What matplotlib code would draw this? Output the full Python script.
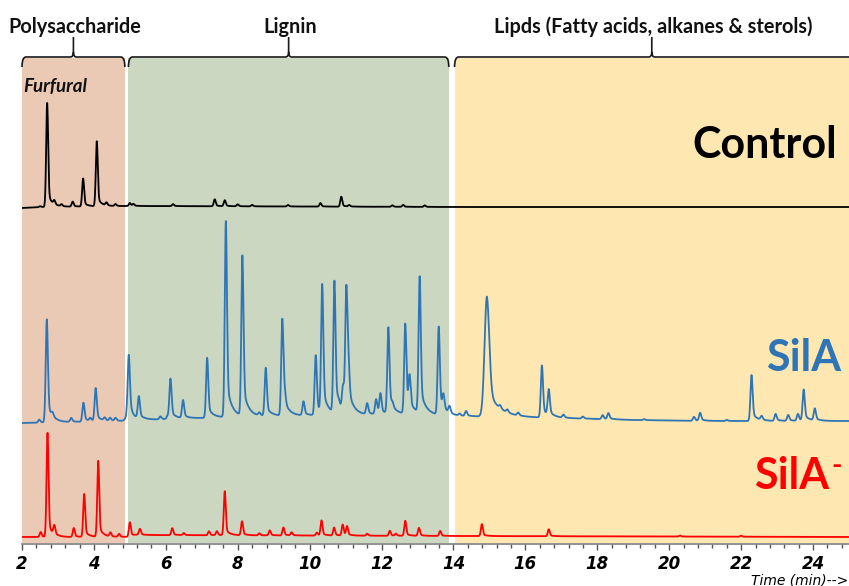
import numpy as np
import matplotlib.pyplot as plt
from matplotlib.path import Path
from matplotlib.patches import PathPatch

# retention time grid (min)
t = np.linspace(2, 25.2, 4641)

# sample regions (start, end in min)
region_start = [2.0, 4.96, 14.03]
region_end = [4.86, 13.87, 25.2]
region_names = ['Polysaccharide', 'Lignin', 'Lipds (Fatty acids, alkanes & sterols)']
region_colors = ['#EBCAB5', '#CBD7C1', '#FFE7B2']

# Control peaks: retention time, height
control_rt = [2.50, 2.70, 2.90, 3.10, 3.41, 3.70, 4.08, 4.35, 4.60, 5.00, 5.10, 6.20,
              7.36, 7.64, 8.00, 8.40, 9.40, 10.30, 10.88, 11.10, 12.30, 12.60, 13.20]
control_h = [1, 104, 4, 2, 5, 28, 65, 3, 2, 3, 2, 2,
             7, 6, 2, 1.5, 1.5, 3.5, 10, 1.5, 1.5, 2, 1.5]
control_base_t = [2.0, 2.6, 5.0, 14.0, 25.2]
control_base_y = [-1, 0, 1, 0, 0]

# SilA peaks
sila_rt = [2.48, 2.69, 2.85, 3.37, 3.71, 3.90, 4.05, 4.30, 4.45, 4.60,
           4.97, 5.25, 5.85, 6.05, 6.13, 6.48, 7.15, 7.67, 8.13, 8.60, 8.78,
           9.24, 9.31, 9.83, 10.17, 10.35, 10.69, 10.80, 10.93, 11.02, 11.08,
           11.60, 11.85, 11.97, 12.19, 12.30, 12.66, 12.78, 13.06, 13.59, 13.72,
           13.89, 14.17, 14.35,
           15.30, 15.50, 15.80, 16.46, 16.65, 17.06, 17.60, 18.15, 18.31, 19.30,
           20.69, 20.86, 21.60, 22.29, 22.57, 22.96, 23.31, 23.58, 23.74, 24.05]
sila_h = [3, 103, 4, 4, 19, 3, 33, 3, 3, 3,
          58, 22, 3, 3, 40, 18, 60, 196, 160, 3, 48,
          96, 12, 14, 60, 128, 132, 5, 24, 120, 34,
          11, 15, 20, 86, 5, 90, 32, 136, 88, 15,
          7, 2, 5,
          3, 3, 3, 52, 26, 3, 2, 4, 6, 1,
          4, 8, 1, 46, 4, 7, 6, 7, 31, 12]
sila_broad_rt = [4.97, 14.93]
sila_broad_h = [8, 120]
sila_base_t = [2.0, 4.9, 5.5, 7.0, 9.0, 11.0, 13.0, 14.0, 15.5, 17.0, 19.0, 21.0, 25.2]
sila_base_y = [-2, 0, 1, 3, 5, 6, 7, 5, 4, 3, 1, 0, 0]

# SilA- peaks
silam_rt = [2.52, 2.71, 2.90, 3.44, 3.73, 4.12, 4.46, 4.70, 5.00, 5.28, 6.18, 6.50,
            7.20, 7.42, 7.64, 8.12, 8.60, 8.89, 9.27, 9.50, 10.20, 10.33, 10.68,
            10.92, 11.04, 11.60, 12.23, 12.40, 12.66, 13.04, 13.63, 14.79, 16.65,
            20.30, 22.00]
silam_h = [5, 104, 9, 9, 43, 76, 4, 3, 14, 6, 7, 2,
           4, 4, 44, 14, 2, 5, 8, 3, 3, 15, 8,
           11, 9, 2, 5, 2, 15, 8, 5, 12, 7,
           1, 1]
silam_base_t = [2.0, 4.9, 5.2, 14.0, 25.2]
silam_base_y = [0, 0, 2, 1, 0]

trace_offsets = [337, 123, 7]
trace_colors = ['black', '#2E75B6', '#FF0000']
trace_labels = ['Control', 'SilA', 'SilA']
label_x = [24.68, 24.78, 24.44]
label_y = [399, 186, 68]


def peaks(rt, h, sigma=0.027, tail=0.15, tau=0.12):
    y = np.zeros_like(t)
    for r, a in zip(rt, h):
        d = t - r
        g = np.exp(-d ** 2 / (2 * sigma ** 2))
        e = np.exp(-np.clip(d, 0, None) / tau)
        y += a * np.where(d < 0, g, (1 - tail) * g + tail * e)
    return y


control = peaks(control_rt, control_h) + np.interp(t, control_base_t, control_base_y)
sila = (peaks(sila_rt, sila_h, sigma=0.03, tail=0.2, tau=0.14)
        + peaks(sila_broad_rt, sila_broad_h, sigma=0.065, tail=0.25, tau=0.3)
        + np.interp(t, sila_base_t, sila_base_y))
silam = peaks(silam_rt, silam_h) + np.interp(t, silam_base_t, silam_base_y)

fig = plt.figure(figsize=(8.49, 5.86), dpi=100)
ax = fig.add_axes([22 / 849, 42 / 586, 827 / 849, 544 / 586])
ax.set_xlim(2, 25)
ax.set_ylim(0, 544)

# shaded regions
for x0, x1, c in zip(region_start, region_end, region_colors):
    ax.fill_between([x0, x1], 1.5, 486, color=c, lw=0, zorder=0)

# traces
for y, off, c in zip([control, sila, silam], trace_offsets, trace_colors):
    ax.plot(t, y + off, color=c, lw=1.3, zorder=3)

# brackets + region names
px = 1 / 36
for x0, x1, name in zip(region_start, region_end, region_names):
    xm = (x0 + min(x1, 25)) / 2
    verts = [(x0, 477), (x0, 487), (x0 + 4 * px, 487), (xm - 3 * px, 487),
             (xm, 487), (xm, 492), (xm, 507),
             (xm, 492), (xm, 487), (xm + 3 * px, 487), (x1 - 4 * px, 487),
             (x1, 487), (x1, 477)]
    codes = [Path.MOVETO, Path.CURVE3, Path.CURVE3, Path.LINETO,
             Path.CURVE3, Path.CURVE3, Path.LINETO,
             Path.MOVETO, Path.CURVE3, Path.CURVE3, Path.LINETO,
             Path.CURVE3, Path.CURVE3]
    ax.add_patch(PathPatch(Path(verts, codes), fill=False, lw=1.2,
                           color='#1a1a1a', clip_on=False))
    ax.text(xm + 0.05, 511, name, ha='center', va='baseline', fontsize=14.3,
            fontweight='bold', family='Lato', color='#111111')

ax.text(2.03, 457, 'Furfural', ha='left', va='center', fontsize=13.5,
        fontweight='bold', style='italic', family='Lato', color='#111111')

# trace labels
for name, x, y, c in zip(trace_labels, label_x, label_y, trace_colors):
    ax.text(x, y, name, ha='right', va='center',
            fontsize=31, fontweight='bold', family='Lato', color=c)
ax.text(24.5, 78, '-', ha='left', va='center', fontsize=20,
        fontweight='bold', family='Lato', color='#FF0000')

# x axis
for s in ['top', 'left', 'right']:
    ax.spines[s].set_visible(False)
ax.spines['bottom'].set_color('#7f7f7f')
ax.spines['bottom'].set_linewidth(1.2)
ax.set_yticks([])
ax.set_xticks(np.arange(2, 25, 2))
ax.set_xticks(np.arange(2, 25.1, 0.4), minor=True)
ax.tick_params(axis='x', which='major', length=4, width=1, color='#555555', pad=4)
ax.tick_params(axis='x', which='minor', length=3, width=1, color='#555555')
for lab in ax.get_xticklabels():
    lab.set_family(['Liberation Sans Narrow', 'DejaVu Sans'])
    lab.set_fontweight('bold')
    lab.set_style('italic')
    lab.set_fontsize(12)
ax.text(24.97, -36, 'Time (min)-->', ha='right', va='center', fontsize=10,
        style='italic', family=['Liberation Sans Narrow', 'DejaVu Sans'],
        clip_on=False)

fig.savefig('out.png', dpi=100)
